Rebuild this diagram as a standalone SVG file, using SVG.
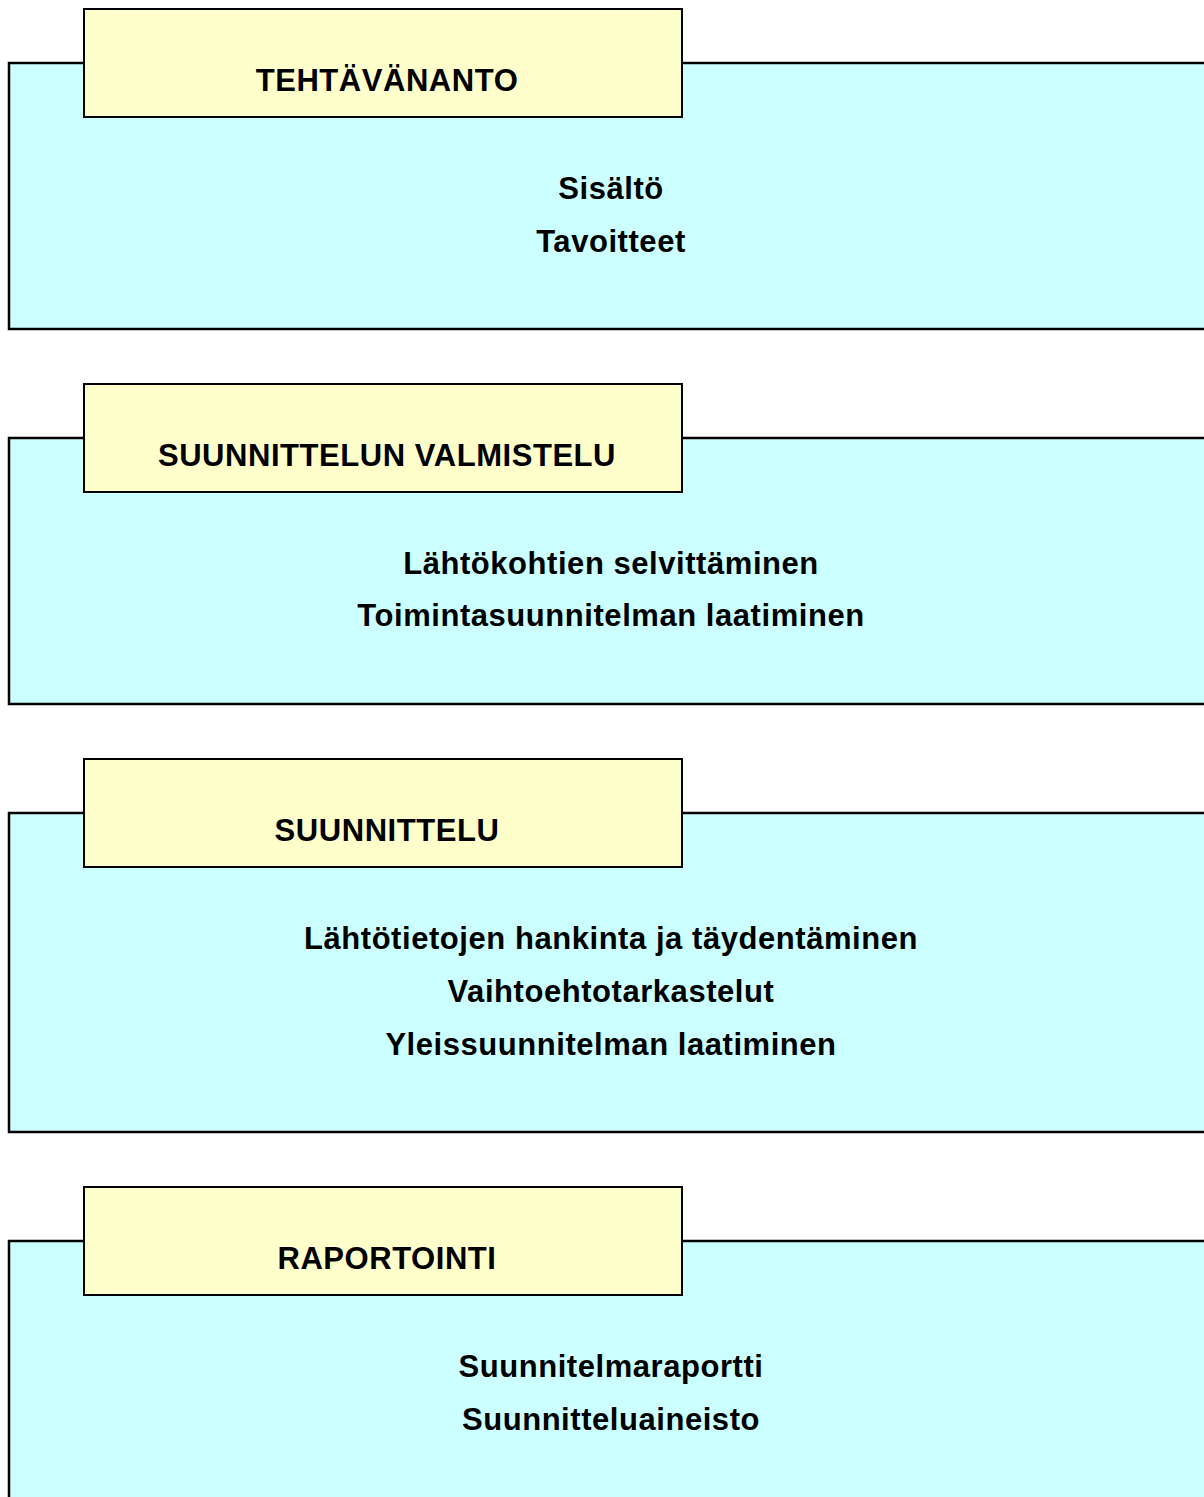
<svg xmlns="http://www.w3.org/2000/svg" width="1204" height="1497" viewBox="0 0 1204 1497">
<style>
.big{fill:#ccffff;stroke:#000;stroke-width:2.5}
.tab{fill:#ffffcc;stroke:#000;stroke-width:2}
text{font-family:"Liberation Sans",Arial,sans-serif;font-weight:bold;font-size:31px;letter-spacing:0.55px;fill:#000;text-anchor:middle}
</style>
<rect width="1204" height="1497" fill="#fff"/>
<g id="tehtavananto">
<rect class="big" x="9" y="63" width="1210" height="266"/>
<rect class="tab" x="84" y="9" width="598" height="108"/>
<text x="387" y="91">TEHTÄVÄNANTO</text>
<text x="611" y="199">Sisältö</text>
<text x="611" y="252">Tavoitteet</text>
</g>
<g id="valmistelu">
<rect class="big" x="9" y="438" width="1210" height="266"/>
<rect class="tab" x="84" y="384" width="598" height="108"/>
<text x="387" y="466">SUUNNITTELUN VALMISTELU</text>
<text x="611" y="574">Lähtökohtien selvittäminen</text>
<text x="611" y="626">Toimintasuunnitelman laatiminen</text>
</g>
<g id="suunnittelu">
<rect class="big" x="9" y="813" width="1210" height="319"/>
<rect class="tab" x="84" y="759" width="598" height="108"/>
<text x="387" y="841">SUUNNITTELU</text>
<text x="611" y="949">Lähtötietojen hankinta ja täydentäminen</text>
<text x="611" y="1002">Vaihtoehtotarkastelut</text>
<text x="611" y="1055">Yleissuunnitelman laatiminen</text>
</g>
<g id="raportointi">
<rect class="big" x="9" y="1241" width="1210" height="300"/>
<rect class="tab" x="84" y="1187" width="598" height="108"/>
<text x="387" y="1269">RAPORTOINTI</text>
<text x="611" y="1377">Suunnitelmaraportti</text>
<text x="611" y="1430">Suunnitteluaineisto</text>
</g>
<g id="connectors"/>
</svg>
